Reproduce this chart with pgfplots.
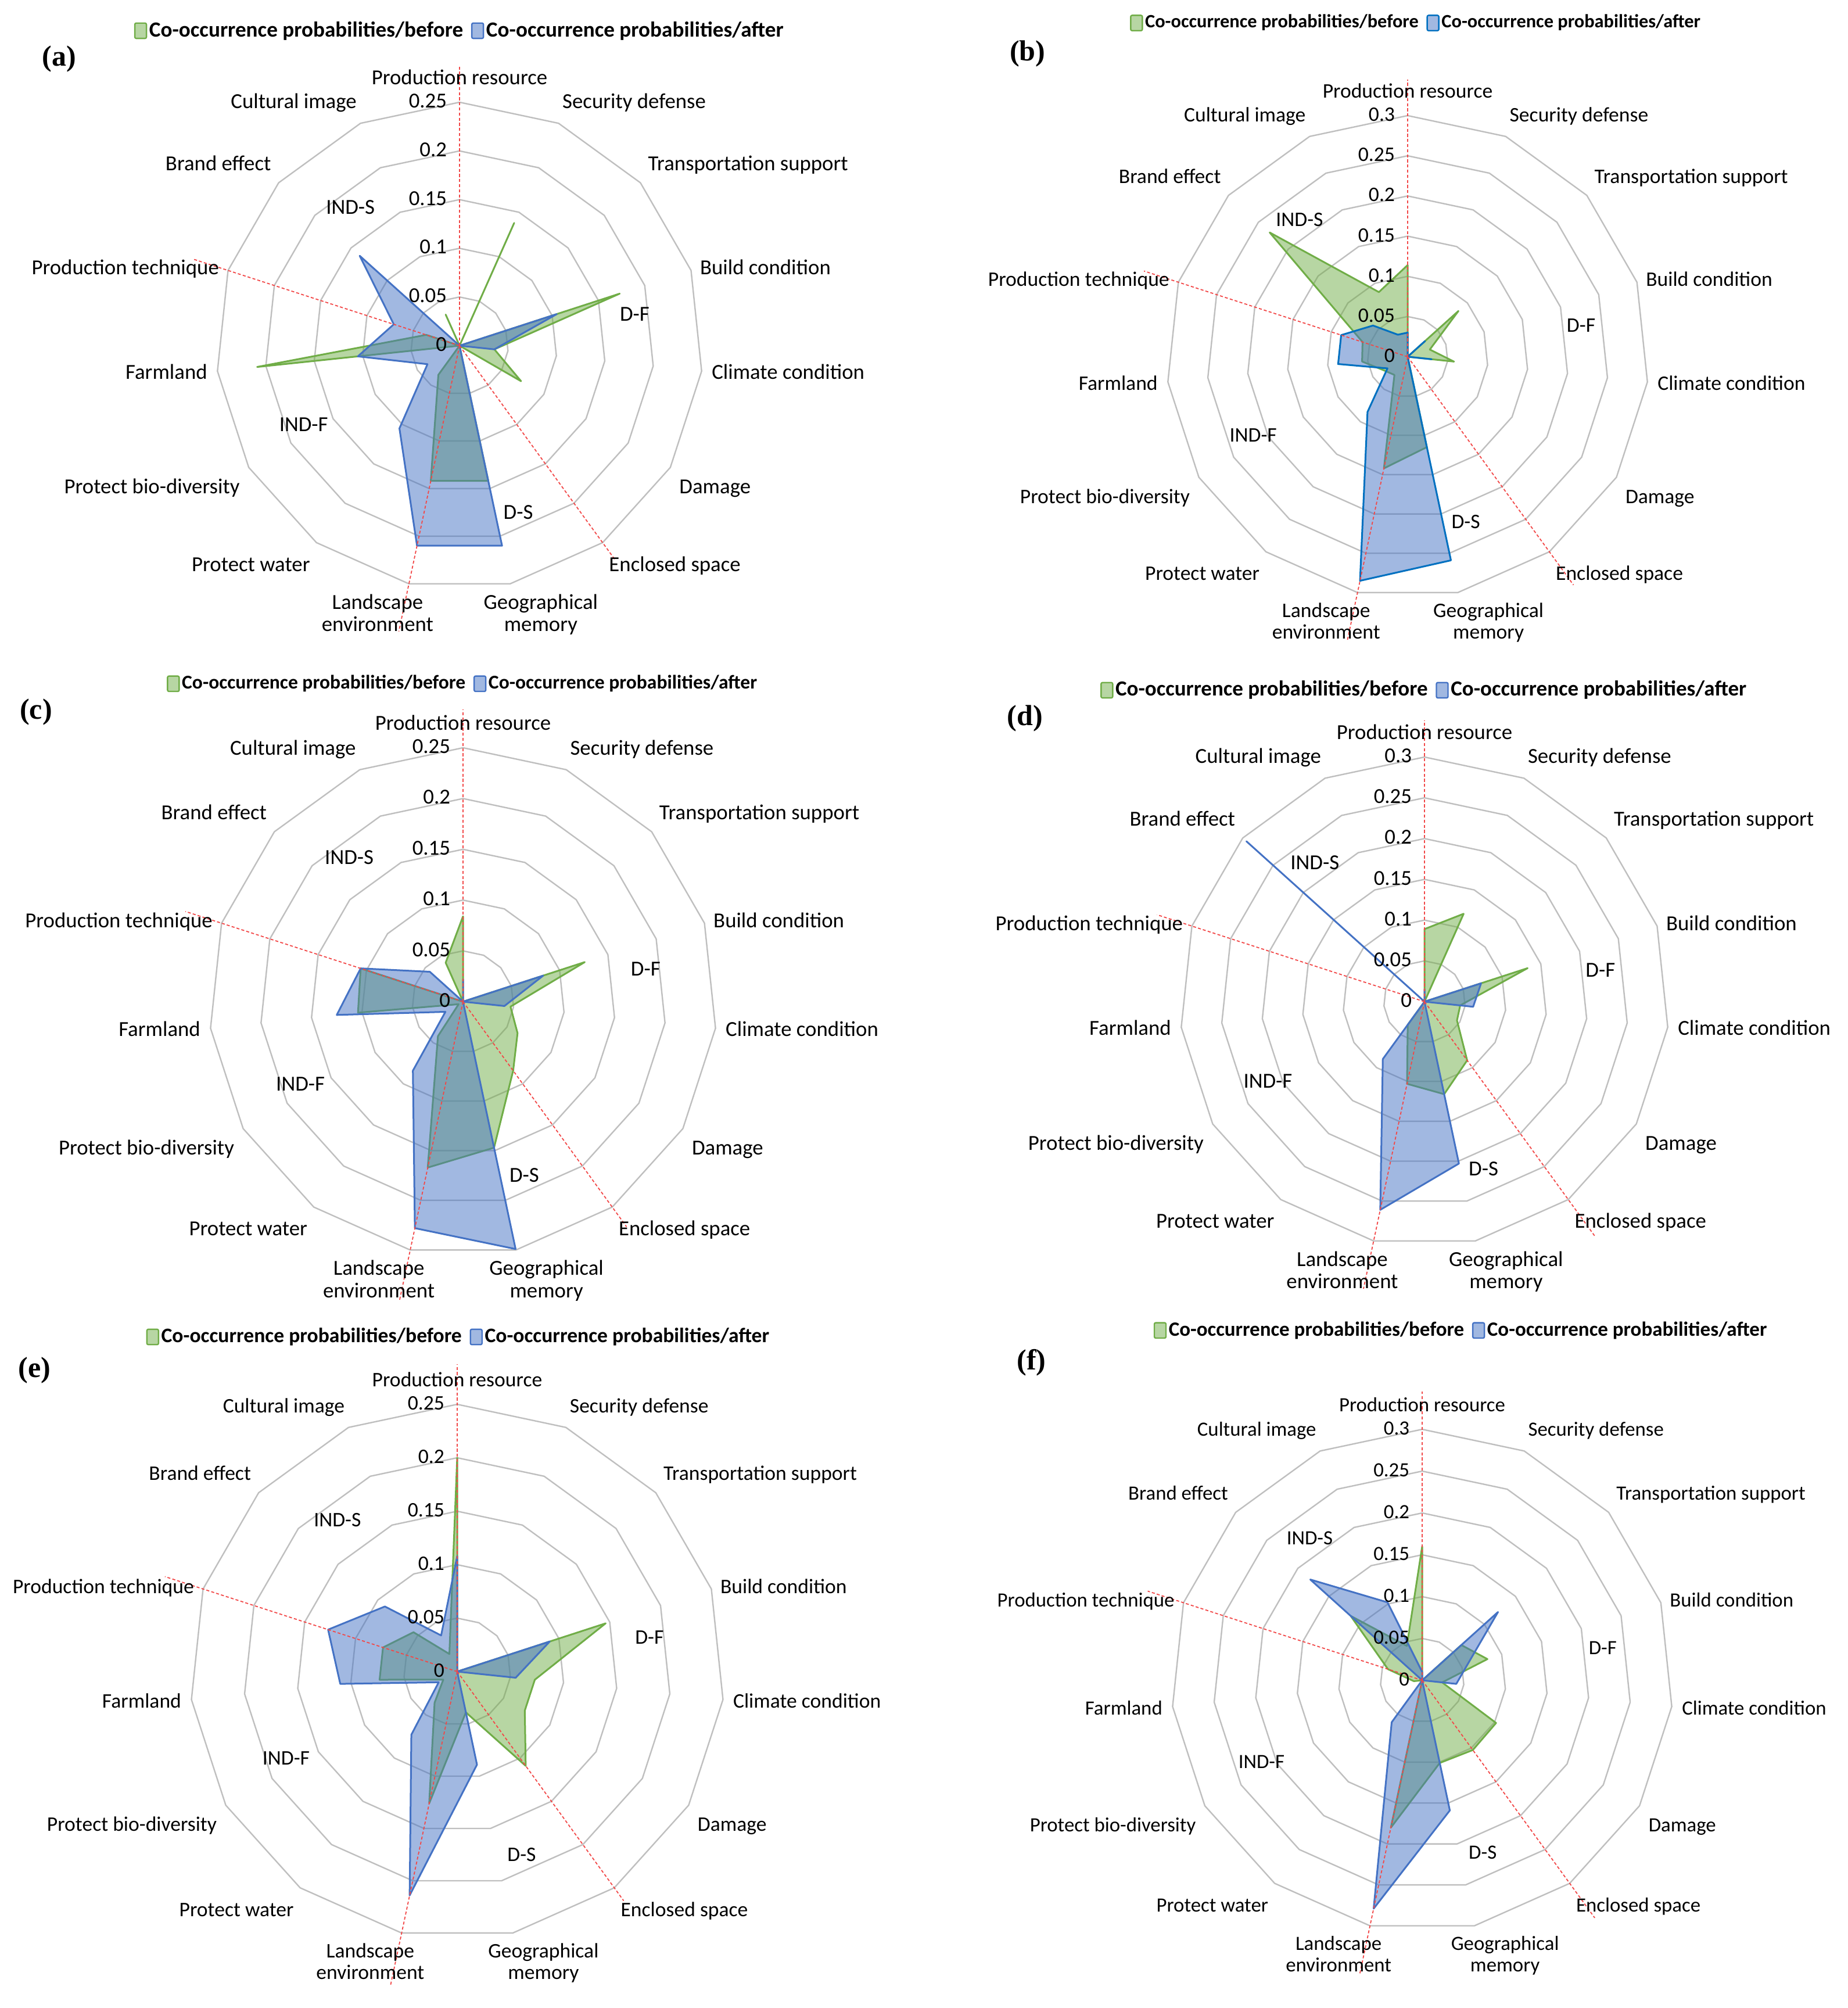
\documentclass[border=0pt]{standalone}
\usepackage{pgfplots}
\usepackage{pgfplotstable}
\pgfplotsset{compat=1.18}
\usepackage{fontspec}
\setmainfont{Carlito}
\newfontfamily\panelserif{Liberation Serif}

\definecolor{cgreen}{HTML}{70AD47}
\definecolor{cblue}{HTML}{4472C4}
\definecolor{cblueb}{HTML}{0070C0}
\definecolor{cgrid}{HTML}{BFBFBF}
\definecolor{cred}{HTML}{F24848}

% Row order (clockwise from the top): Production resource, Security defense,
% Transportation support, Build condition, Climate condition, Damage, Enclosed space,
% Geographical memory, Landscape environment, Protect water, Protect bio-diversity,
% Farmland, Production technique, Brand effect, Cultural image.
% ang = 90 - 24*i (degrees, counter-clockwise from east)
\pgfplotstableread{
ang before after
90 0.000 0.000
66 0.138 0.000
42 0.000 0.000
18 0.173 0.105
-6 0.036 0.036
-30 0.073 0.000
-54 0.000 0.000
-78 0.142 0.210
-102 0.142 0.210
-126 0.037 0.105
-150 0.000 0.038
-174 0.209 0.105
-198 0.036 0.071
-222 0.000 0.138
-246 0.035 0.000
}\dataA
\pgfplotstableread{
ang before after
90 0.114 0.030
66 0.000 0.000
42 0.085 0.029
18 0.029 0.000
-6 0.058 0.030
-30 0.000 0.000
-54 0.000 0.000
-78 0.115 0.259
-102 0.142 0.285
-126 0.028 0.085
-150 0.034 0.029
-174 0.057 0.087
-198 0.059 0.087
-222 0.231 0.058
-246 0.088 0.030
}\dataB
\pgfplotstableread{
ang before after
90 0.084 0.022
66 0.000 0.000
42 0.000 0.000
18 0.126 0.083
-6 0.047 0.041
-30 0.062 0.000
-54 0.084 0.000
-78 0.147 0.249
-102 0.167 0.228
-126 0.042 0.084
-150 0.005 0.020
-174 0.104 0.125
-198 0.106 0.106
-222 0.000 0.044
-246 0.042 0.000
}\dataC
\pgfplotstableread{
ang before after
90 0.089 0.015
66 0.118 0.000
42 0.000 0.000
18 0.133 0.073
-6 0.044 0.060
-30 0.046 0.000
-54 0.089 0.000
-78 0.116 0.203
-102 0.103 0.261
-126 0.035 0.087
-150 0.000 0.000
-174 0.000 0.000
-198 0.000 0.000
-222 0.000 0.294
-246 0.000 0.000
}\dataD
\pgfplotstableread{
ang before after
90 0.200 0.108
66 0.000 0.000
42 0.000 0.000
18 0.146 0.091
-6 0.073 0.055
-30 0.073 0.000
-54 0.109 0.000
-78 0.039 0.089
-102 0.126 0.214
-126 0.036 0.073
-150 0.015 0.020
-174 0.073 0.110
-198 0.073 0.127
-222 0.055 0.091
-246 0.018 0.037
}\dataE
\pgfplotstableread{
ang before after
90 0.160 0.010
66 0.000 0.000
42 0.063 0.122
18 0.082 0.056
-6 0.024 0.041
-30 0.102 0.000
-54 0.103 0.000
-78 0.101 0.159
-102 0.180 0.279
-126 0.000 0.062
-150 0.000 0.000
-174 0.010 0.000
-198 0.043 0.000
-222 0.115 0.180
-246 0.045 0.102
}\dataF

\def\labfont{\fontsize{9.2}{9.6}\selectfont}
\tikzset{
  lab/.style={font=\labfont, inner sep=0pt, outer sep=0pt},
  lab1/.style={lab, text height=0.68em, text depth=0.2em},
  redray/.style={cred, line width=0.45pt, dash pattern=on 1.3pt off 0.9pt},
}
\pgfplotsset{
  radar/.style={
    scale only axis, hide axis, clip=false, anchor=center,
    data cs=polar,
    legend columns=2,
    legend cell align=left,
    legend image code/.code={\draw[##1, line width=0.6pt, rounded corners=0.6pt] (0pt,-3.3pt) rectangle (5pt,3.3pt);},
    legend style={draw=none, fill=none, anchor=center, inner sep=0pt,
      nodes={inner sep=0.9pt},
      /tikz/every even column/.append style={column sep=2.5pt}},
    legend entries={Co-occurrence probabilities/before, Co-occurrence probabilities/after},
  },
  serbefore/.style={cgreen, line width=0.75pt, line join=round, fill=cgreen, fill opacity=0.5},
  serafter/.style={cblue, line width=0.75pt, line join=round, fill=cblue, fill opacity=0.5},
}

\newcommand{\rings}[1]{%
  \pgfplotsinvokeforeach{#1}{%
    \addplot[cgrid, line width=0.6pt, line join=round, forget plot] coordinates {(90,##1) (66,##1) (42,##1) (18,##1) (-6,##1) (-30,##1) (-54,##1) (-78,##1) (-102,##1) (-126,##1) (-150,##1) (-174,##1) (-198,##1) (-222,##1) (-246,##1)} -- cycle;
  }%
}
\newcommand{\redrays}[3]{%
  \addplot[redray, forget plot] coordinates {(90,0) (90,#1)};
  \addplot[redray, forget plot] coordinates {(162,0) (162,#1)};
  \addplot[redray, forget plot] coordinates {(-54,0) (-54,#2)};
  \addplot[redray, forget plot] coordinates {(-102,0) (-102,#3)};
}
\newcommand{\ticklabels}[1]{%
  \node[lab1, anchor=east, xshift=-5.5pt] at (axis cs:0,0) {0};
  \pgfplotsinvokeforeach{#1}{%
    \node[lab1, anchor=east, xshift=-5.5pt] at ([shift={(90:{##1/\ym*\Rpt})}]axis cs:0,0) {##1};
  }%
}
\newcommand{\catlabels}{%
  \node[lab1, anchor=south, yshift=5.5pt] at ([shift={(90:\Rpt)}]axis cs:0,0) {Production resource};
  \node[lab1, anchor=west, xshift=1.7pt, yshift=8.8pt] at ([shift={(66:\Rpt)}]axis cs:0,0) {Security defense};
  \node[lab1, anchor=west, xshift=3.3pt, yshift=7.7pt] at ([shift={(42:\Rpt)}]axis cs:0,0) {Transportation support};
  \node[lab1, anchor=west, xshift=3.9pt, yshift=0.6pt] at ([shift={(18:\Rpt)}]axis cs:0,0) {Build condition};
  \node[lab1, anchor=west, xshift=4.4pt, yshift=-1.1pt] at ([shift={(-6:\Rpt)}]axis cs:0,0) {Climate condition};
  \node[lab1, anchor=west, xshift=3.9pt, yshift=-8.8pt] at ([shift={(-30:\Rpt)}]axis cs:0,0) {Damage};
  \node[lab1, anchor=west, xshift=2.8pt, yshift=-9.9pt] at ([shift={(-54:\Rpt)}]axis cs:0,0) {Enclosed space};
  \node[lab, anchor=north, align=center, xshift=13.2pt, yshift=-4.5pt] at ([shift={(-78:\Rpt)}]axis cs:0,0) {Geographical\\memory};
  \node[lab, anchor=north, align=center, xshift=-13.5pt, yshift=-4.5pt] at ([shift={(-102:\Rpt)}]axis cs:0,0) {Landscape\\environment};
  \node[lab1, anchor=east, xshift=-2.8pt, yshift=-9.9pt] at ([shift={(-126:\Rpt)}]axis cs:0,0) {Protect water};
  \node[lab1, anchor=east, xshift=-3.9pt, yshift=-8.8pt] at ([shift={(-150:\Rpt)}]axis cs:0,0) {Protect bio-diversity};
  \node[lab1, anchor=east, xshift=-4.4pt, yshift=-1.1pt] at ([shift={(-174:\Rpt)}]axis cs:0,0) {Farmland};
  \node[lab1, anchor=east, xshift=-3.9pt, yshift=0.6pt] at ([shift={(162:\Rpt)}]axis cs:0,0) {Production technique};
  \node[lab1, anchor=east, xshift=-3.3pt, yshift=7.7pt] at ([shift={(138:\Rpt)}]axis cs:0,0) {Brand effect};
  \node[lab1, anchor=east, xshift=-1.7pt, yshift=8.8pt] at ([shift={(114:\Rpt)}]axis cs:0,0) {Cultural image};
  \node[lab1] at ([shift={(128.5:{0.72*\Rpt})}]axis cs:0,0) {IND-S};
  \node[lab1] at ([shift={(9.8:{0.73*\Rpt})}]axis cs:0,0) {D-F};
  \node[lab1] at ([shift={(-70.7:{0.73*\Rpt})}]axis cs:0,0) {D-S};
  \node[lab1] at ([shift={(-152.8:{0.72*\Rpt})}]axis cs:0,0) {IND-F};
}

\begin{document}
\begin{tikzpicture}
\useasboundingbox (0pt,0pt) rectangle (795pt,864pt);

% ---------------- (a) ----------------
\def\Rpt{104.75pt}\def\ym{0.25}\def\labfont{\fontsize{9.2}{9.6}\selectfont}
\begin{axis}[radar, at={(197.75pt,715.25pt)}, width=209.5pt, height=209.5pt,
  xmin=-0.25, xmax=0.25, ymin=-0.25, ymax=0.25,
  legend style={at={(0.5007,1.1468)}, font=\bfseries\fontsize{9.3}{11}\selectfont}]
  \rings{0.05,0.1,0.15,0.2,0.25}
  \addplot[serbefore] table[x=ang, y=before] {\dataA} -- cycle;
  \addplot[serafter] table[x=ang, y=after] {\dataA} -- cycle;
  \redrays{0.2875}{0.271}{0.30}
  \ticklabels{0.05,0.1,0.15,0.2,0.25}
  \catlabels
\end{axis}

% ---------------- (b) ----------------
\def\Rpt{103.75pt}\def\ym{0.3}\def\labfont{\fontsize{8.9}{9.3}\selectfont}
\begin{axis}[radar, at={(605.75pt,710.5pt)}, width=207.5pt, height=207.5pt,
  xmin=-0.3, xmax=0.3, ymin=-0.3, ymax=0.3,
  legend style={at={(0.518,1.192)}, font=\bfseries\fontsize{8.1}{10}\selectfont}]
  \rings{0.05,0.1,0.15,0.2,0.25,0.3}
  \addplot[serbefore] table[x=ang, y=before] {\dataB} -- cycle;
  \addplot[serafter, draw=cblueb] table[x=ang, y=after] {\dataB} -- cycle;
  \redrays{0.345}{0.351}{0.36}
  \ticklabels{0.05,0.1,0.15,0.2,0.25,0.3}
  \catlabels
\end{axis}

% ---------------- (c) ----------------
\def\Rpt{109.25pt}\def\ym{0.25}\def\labfont{\fontsize{9.2}{9.6}\selectfont}
\begin{axis}[radar, at={(199.25pt,433pt)}, width=218.5pt, height=218.5pt,
  xmin=-0.25, xmax=0.25, ymin=-0.25, ymax=0.25,
  legend style={at={(0.5,1.126)}, font=\bfseries\fontsize{8.4}{10}\selectfont}]
  \rings{0.05,0.1,0.15,0.2,0.25}
  \addplot[serbefore] table[x=ang, y=before] {\dataC} -- cycle;
  \addplot[serafter] table[x=ang, y=after] {\dataC} -- cycle;
  \redrays{0.2875}{0.274}{0.30}
  \ticklabels{0.05,0.1,0.15,0.2,0.25}
  \catlabels
\end{axis}

% ---------------- (d) ----------------
\def\Rpt{105.25pt}\def\ym{0.3}\def\labfont{\fontsize{9.2}{9.6}\selectfont}
\begin{axis}[radar, at={(613pt,433pt)}, width=210.5pt, height=210.5pt,
  xmin=-0.3, xmax=0.3, ymin=-0.3, ymax=0.3,
  legend style={at={(0.5,1.1366)}, font=\bfseries\fontsize{9.25}{11}\selectfont}]
  \rings{0.05,0.1,0.15,0.2,0.25,0.3}
  \addplot[serbefore] table[x=ang, y=before] {\dataD} -- cycle;
  \addplot[serafter] table[x=ang, y=after] {\dataD} -- cycle;
  \redrays{0.345}{0.357}{0.36}
  \ticklabels{0.05,0.1,0.15,0.2,0.25,0.3}
  \catlabels
\end{axis}

% ---------------- (e) ----------------
\def\Rpt{115pt}\def\ym{0.25}\def\labfont{\fontsize{8.9}{9.3}\selectfont}
\begin{axis}[radar, at={(196.75pt,144.75pt)}, width=230pt, height=230pt,
  xmin=-0.25, xmax=0.25, ymin=-0.25, ymax=0.25,
  legend style={at={(0.503,1.126)}, font=\bfseries\fontsize{8.9}{10.5}\selectfont}]
  \rings{0.05,0.1,0.15,0.2,0.25}
  \addplot[serbefore] table[x=ang, y=before] {\dataE} -- cycle;
  \addplot[serafter] table[x=ang, y=after] {\dataE} -- cycle;
  \redrays{0.2875}{0.265}{0.30}
  \ticklabels{0.05,0.1,0.15,0.2,0.25}
  \catlabels
\end{axis}

% ---------------- (f) ----------------
\def\Rpt{108pt}\def\ym{0.3}\def\labfont{\fontsize{8.7}{9.1}\selectfont}
\begin{axis}[radar, at={(612pt,141pt)}, width=216pt, height=216pt,
  xmin=-0.3, xmax=0.3, ymin=-0.3, ymax=0.3,
  legend style={at={(0.578,1.197)}, font=\bfseries\fontsize{8.75}{10.5}\selectfont}]
  \rings{0.05,0.1,0.15,0.2,0.25,0.3}
  \addplot[serbefore] table[x=ang, y=before] {\dataF} -- cycle;
  \addplot[serafter] table[x=ang, y=after] {\dataF} -- cycle;
  \redrays{0.345}{0.351}{0.36}
  \ticklabels{0.05,0.1,0.15,0.2,0.25,0.3}
  \catlabels
\end{axis}

% panel letters
\begin{scope}[every node/.style={font=\panelserif\bfseries\fontsize{12.5}{14}\selectfont, inner sep=0pt}]
\node at (25.4pt,838.6pt) {(a)};
\node at (442.2pt,840.8pt) {(b)};
\node at (15.5pt,557.6pt) {(c)};
\node at (441.1pt,554.9pt) {(d)};
\node at (14.9pt,274.4pt) {(e)};
\node at (443.9pt,277.7pt) {(f)};
\end{scope}
\end{tikzpicture}
\end{document}
